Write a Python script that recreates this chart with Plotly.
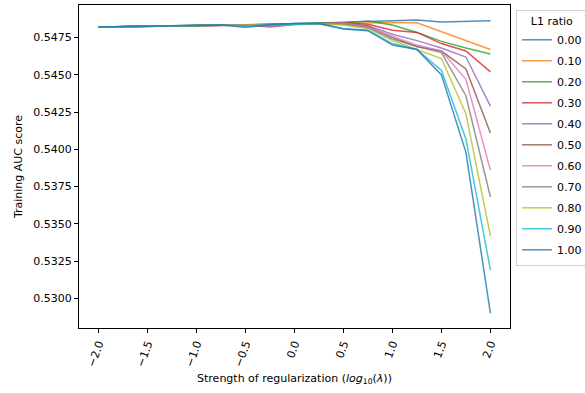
import plotly.graph_objects as go

x_vals = [-2.0, -1.75, -1.5, -1.25, -1.0, -0.75, -0.5, -0.25, 0.0, 0.25, 0.5, 0.75, 1.0, 1.25, 1.5, 1.75, 2.0]

l1_labels = ["0.00", "0.10", "0.20", "0.30", "0.40", "0.50", "0.60", "0.70", "0.80", "0.90", "1.00"]

auc_000 = [0.54822, 0.54823, 0.54826, 0.54830, 0.54834, 0.54836, 0.54830, 0.54838, 0.54845, 0.54848, 0.54852, 0.54855, 0.54860, 0.54868, 0.54855, 0.54860, 0.54864]
auc_010 = [0.54822, 0.54823, 0.54825, 0.54828, 0.54831, 0.54833, 0.54836, 0.54838, 0.54840, 0.54844, 0.54850, 0.54852, 0.54852, 0.54850, 0.54790, 0.54730, 0.54670]
auc_020 = [0.54822, 0.54823, 0.54825, 0.54828, 0.54831, 0.54834, 0.54837, 0.54839, 0.54842, 0.54845, 0.54850, 0.54862, 0.54835, 0.54785, 0.54725, 0.54680, 0.54640]
auc_030 = [0.54822, 0.54823, 0.54825, 0.54827, 0.54830, 0.54833, 0.54836, 0.54835, 0.54840, 0.54844, 0.54848, 0.54840, 0.54800, 0.54785, 0.54710, 0.54660, 0.54520]
auc_040 = [0.54822, 0.54823, 0.54825, 0.54827, 0.54830, 0.54833, 0.54836, 0.54838, 0.54842, 0.54845, 0.54846, 0.54830, 0.54773, 0.54730, 0.54680, 0.54620, 0.54290]
auc_050 = [0.54822, 0.54823, 0.54824, 0.54826, 0.54829, 0.54832, 0.54834, 0.54822, 0.54838, 0.54843, 0.54845, 0.54825, 0.54750, 0.54690, 0.54660, 0.54540, 0.54110]
auc_060 = [0.54822, 0.54823, 0.54825, 0.54827, 0.54830, 0.54833, 0.54835, 0.54825, 0.54840, 0.54842, 0.54848, 0.54820, 0.54760, 0.54700, 0.54660, 0.54470, 0.53860]
auc_070 = [0.54822, 0.54823, 0.54825, 0.54827, 0.54830, 0.54833, 0.54835, 0.54830, 0.54840, 0.54843, 0.54840, 0.54815, 0.54740, 0.54690, 0.54650, 0.54360, 0.53680]
auc_080 = [0.54822, 0.54823, 0.54825, 0.54827, 0.54830, 0.54833, 0.54834, 0.54832, 0.54838, 0.54842, 0.54835, 0.54812, 0.54730, 0.54670, 0.54610, 0.54240, 0.53420]
auc_090 = [0.54822, 0.54823, 0.54825, 0.54828, 0.54831, 0.54834, 0.54828, 0.54836, 0.54842, 0.54843, 0.54812, 0.54800, 0.54710, 0.54670, 0.54530, 0.54070, 0.53190]
auc_100 = [0.54822, 0.54823, 0.54826, 0.54829, 0.54832, 0.54835, 0.54820, 0.54836, 0.54845, 0.54844, 0.54808, 0.54797, 0.54700, 0.54670, 0.54500, 0.53980, 0.52900]

series = [auc_000, auc_010, auc_020, auc_030, auc_040, auc_050, auc_060, auc_070, auc_080, auc_090, auc_100]
colors = ["#1f77b4", "#ff7f0e", "#2ca02c", "#d62728", "#9467bd", "#8c564b",
          "#e377c2", "#7f7f7f", "#bcbd22", "#17becf", "#1f77b4"]

x_ticks = [-2.0, -1.5, -1.0, -0.5, 0.0, 0.5, 1.0, 1.5, 2.0]
x_ticktext = ["\u22122.0", "\u22121.5", "\u22121.0", "\u22120.5", "0.0", "0.5", "1.0", "1.5", "2.0"]
y_ticks = [0.5300, 0.5325, 0.5350, 0.5375, 0.5400, 0.5425, 0.5450, 0.5475]
y_ticktext = ["0.5300", "0.5325", "0.5350", "0.5375", "0.5400", "0.5425", "0.5450", "0.5475"]

fig = go.Figure()
for lab, ys, col in zip(l1_labels, series, colors):
    fig.add_trace(go.Scatter(x=x_vals, y=ys, mode="lines", name=lab, legendgroup=lab,
                             line=dict(color=col, width=1.5), opacity=0.8))

font = dict(family="DejaVu Sans", size=11, color="black")

L, R, T, B, W, H = 79, 75, 5, 65, 585, 393
pw, ph = W - L - R, H - T - B


def px_x(p):
    return (p - L) / pw


def px_y(p):
    return (H - B - p) / ph


# legend shadow (matplotlib-style)
fig.add_shape(type="rect", xref="paper", yref="paper",
              x0=px_x(519), x1=px_x(600), y0=px_y(240), y1=px_y(13),
              fillcolor="rgba(0,0,0,0.3)", line=dict(width=0), layer="above")

fig.update_layout(
    width=W, height=H,
    margin=dict(l=L, r=R, t=T, b=B, autoexpand=False),
    paper_bgcolor="white", plot_bgcolor="white",
    font=font,
    showlegend=True,
    legend=dict(
        title=dict(text="L1 ratio", side="top center", font=font),
        x=px_x(516), y=px_y(10), xanchor="left", yanchor="top",
        bgcolor="white", bordercolor="#d0d0d0", borderwidth=1,
        font=font, itemwidth=30, tracegroupgap=2,
    ),
    xaxis=dict(
        range=[-2.2, 2.2], tickmode="array", tickvals=x_ticks, ticktext=x_ticktext,
        tickangle=-70, ticks="outside", ticklen=4, tickcolor="black",
        showline=True, linecolor="black", linewidth=1, mirror=True,
        showgrid=False, zeroline=False,
        title=dict(text="Strength of regularization (<i>log</i><sub>10</sub>(<i>λ</i>))", font=font, standoff=6),
    ),
    yaxis=dict(
        range=[0.52801, 0.54969], tickmode="array", tickvals=y_ticks, ticktext=y_ticktext,
        ticks="outside", ticklen=4, tickcolor="black",
        showline=True, linecolor="black", linewidth=1, mirror=True,
        showgrid=False, zeroline=False,
        title=dict(text="Training AUC score", font=font, standoff=8),
    ),
)

fig.write_html("out.html")
